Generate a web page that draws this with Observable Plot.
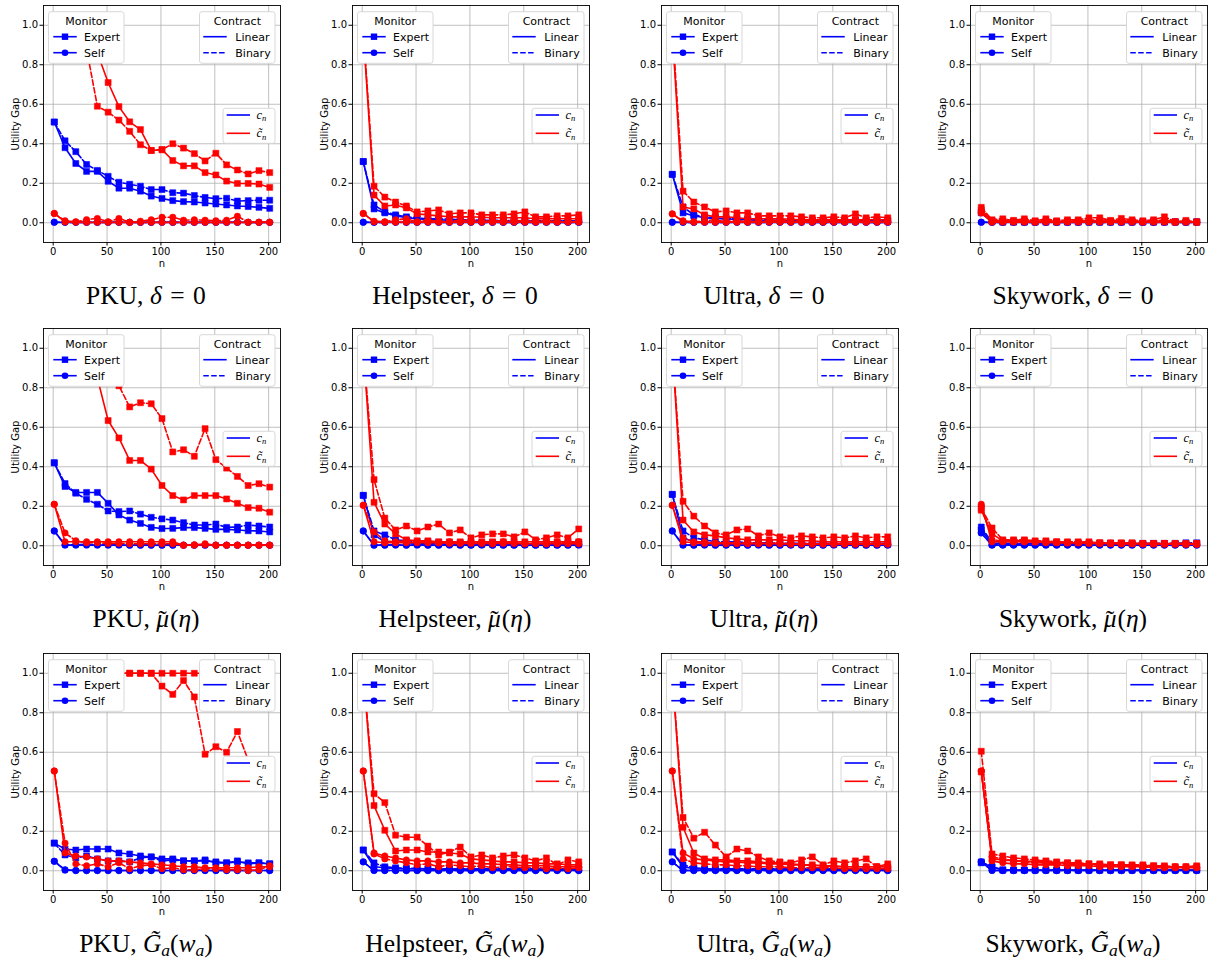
<!DOCTYPE html>
<html><head><meta charset="utf-8">
<script src="https://cdn.jsdelivr.net/npm/d3@7"></script>
<script src="https://cdn.jsdelivr.net/npm/@observablehq/plot@0.6"></script>
<style>
html,body{margin:0;padding:0;background:#fff;}
body{width:1214px;height:961px;overflow:hidden;position:relative;}
.cell{position:absolute;width:300px;height:320px;}
.cell svg.ov{position:absolute;left:0;top:0;overflow:visible;}
</style></head><body>
<script>
// ---------- data ----------
const N = [1,11,21,31,41,51,61,71,81,91,101,111,121,131,141,151,161,171,181,191,201];
const datasetNames = ["PKU","Helpsteer","Ultra","Skywork"];

// Row 1: delta = 0
const PKU_d_c_EL = [0.51,0.38,0.30,0.26,0.26,0.21,0.175,0.175,0.16,0.135,0.123,0.112,0.107,0.105,0.10,0.095,0.09,0.085,0.082,0.078,0.073];
const PKU_d_c_EB = [0.51,0.415,0.36,0.295,0.265,0.235,0.205,0.195,0.185,0.168,0.168,0.152,0.15,0.138,0.128,0.122,0.124,0.11,0.112,0.114,0.114];
const PKU_d_c_SL = [0.002,0.002,0.002,0.002,0.002,0.002,0.002,0.002,0.002,0.002,0.002,0.002,0.002,0.002,0.002,0.002,0.002,0.002,0.002,0.002,0.002];
const PKU_d_c_SB = [0.003,0.002,0.002,0.002,0.002,0.002,0.003,0.002,0.002,0.002,0.003,0.002,0.002,0.002,0.002,0.002,0.002,0.003,0.002,0.002,0.002];
const PKU_d_t_EL = [1.0,1.0,1.0,1.0,0.86,0.71,0.588,0.511,0.472,0.366,0.37,0.315,0.288,0.288,0.254,0.242,0.211,0.199,0.199,0.196,0.179];
const PKU_d_t_EB = [1.0,1.0,1.0,0.88,0.59,0.56,0.52,0.463,0.395,0.366,0.37,0.40,0.378,0.35,0.313,0.352,0.293,0.267,0.247,0.264,0.254];
const PKU_d_t_SL = [0.047,0.004,0.003,0.002,0.002,0.002,0.002,0.002,0.002,0.002,0.002,0.002,0.002,0.002,0.002,0.002,0.002,0.002,0.002,0.002,0.002];
const PKU_d_t_SB = [0.047,0.01,0.005,0.016,0.022,0.005,0.022,0.003,0.008,0.015,0.028,0.028,0.013,0.015,0.013,0.01,0.013,0.033,0.003,0.003,0.003];

const HS_d_c_EL = [0.31,0.07,0.05,0.035,0.025,0.02,0.015,0.015,0.012,0.01,0.01,0.01,0.01,0.01,0.008,0.008,0.008,0.008,0.008,0.008,0.008];
const HS_d_c_EB = [0.31,0.09,0.055,0.04,0.03,0.025,0.02,0.02,0.018,0.015,0.015,0.012,0.012,0.012,0.01,0.01,0.012,0.01,0.01,0.01,0.01];
const HS_d_c_SL = [0.002,0.002,0.002,0.002,0.002,0.002,0.002,0.002,0.002,0.002,0.002,0.002,0.002,0.002,0.002,0.002,0.002,0.002,0.002,0.002,0.002];
const HS_d_c_SB = [0.003,0.002,0.002,0.003,0.002,0.002,0.003,0.002,0.002,0.002,0.003,0.002,0.002,0.002,0.002,0.002,0.002,0.003,0.002,0.002,0.002];
const HS_d_t_EL = [0.96,0.14,0.085,0.09,0.075,0.045,0.04,0.035,0.03,0.03,0.03,0.028,0.025,0.025,0.025,0.025,0.02,0.02,0.02,0.02,0.02];
const HS_d_t_EB = [0.98,0.185,0.13,0.105,0.085,0.055,0.06,0.065,0.045,0.05,0.05,0.04,0.04,0.04,0.045,0.055,0.03,0.03,0.035,0.035,0.04];
const HS_d_t_SL = [0.047,0.005,0.003,0.003,0.003,0.003,0.003,0.003,0.003,0.003,0.003,0.003,0.003,0.003,0.003,0.003,0.003,0.003,0.003,0.003,0.003];
const HS_d_t_SB = [0.047,0.008,0.005,0.015,0.02,0.005,0.015,0.005,0.01,0.01,0.015,0.01,0.008,0.01,0.012,0.01,0.008,0.012,0.005,0.005,0.008];

const UL_d_c_EL = [0.245,0.05,0.035,0.025,0.02,0.02,0.015,0.015,0.012,0.01,0.01,0.01,0.01,0.008,0.008,0.008,0.008,0.008,0.008,0.008,0.008];
const UL_d_c_EB = [0.245,0.08,0.04,0.03,0.025,0.02,0.02,0.018,0.015,0.015,0.012,0.012,0.012,0.01,0.01,0.01,0.01,0.012,0.01,0.01,0.01];
const UL_d_c_SL = [0.002,0.002,0.002,0.002,0.002,0.002,0.002,0.002,0.002,0.002,0.002,0.002,0.002,0.002,0.002,0.002,0.002,0.002,0.002,0.002,0.002];
const UL_d_c_SB = [0.003,0.002,0.002,0.003,0.002,0.002,0.003,0.002,0.002,0.002,0.003,0.002,0.002,0.002,0.002,0.002,0.002,0.003,0.002,0.002,0.002];
const UL_d_t_EL = [0.97,0.08,0.07,0.04,0.03,0.03,0.025,0.02,0.02,0.02,0.02,0.018,0.015,0.015,0.015,0.015,0.015,0.015,0.015,0.015,0.015];
const UL_d_t_EB = [1.0,0.16,0.105,0.08,0.055,0.06,0.05,0.05,0.035,0.035,0.035,0.035,0.03,0.025,0.025,0.03,0.025,0.045,0.025,0.03,0.025];
const UL_d_t_SL = [0.045,0.005,0.003,0.003,0.003,0.003,0.003,0.003,0.003,0.003,0.003,0.003,0.003,0.003,0.003,0.003,0.003,0.003,0.003,0.003,0.003];
const UL_d_t_SB = [0.045,0.01,0.005,0.01,0.015,0.005,0.01,0.005,0.008,0.01,0.012,0.01,0.008,0.01,0.012,0.01,0.008,0.01,0.005,0.005,0.008];

const SW_d_c_EL = [0.05,0.005,0.003,0.003,0.003,0.003,0.003,0.003,0.003,0.003,0.003,0.003,0.003,0.003,0.003,0.003,0.003,0.003,0.003,0.003,0.003];
const SW_d_c_EB = [0.055,0.008,0.005,0.005,0.005,0.005,0.005,0.005,0.005,0.005,0.005,0.005,0.005,0.005,0.005,0.005,0.005,0.005,0.005,0.005,0.005];
const SW_d_c_SL = [0.002,0.002,0.002,0.002,0.002,0.002,0.002,0.002,0.002,0.002,0.002,0.002,0.002,0.002,0.002,0.002,0.002,0.002,0.002,0.002,0.002];
const SW_d_c_SB = [0.003,0.002,0.002,0.003,0.002,0.002,0.003,0.002,0.002,0.002,0.003,0.002,0.002,0.002,0.002,0.002,0.002,0.003,0.002,0.002,0.002];
const SW_d_t_EL = [0.065,0.01,0.01,0.008,0.01,0.005,0.01,0.005,0.008,0.008,0.01,0.01,0.008,0.008,0.008,0.005,0.008,0.008,0.005,0.005,0.003];
const SW_d_t_EB = [0.078,0.015,0.02,0.012,0.02,0.01,0.02,0.01,0.015,0.015,0.025,0.025,0.012,0.022,0.015,0.01,0.015,0.03,0.005,0.012,0.005];
const SW_d_t_SL = [0.05,0.003,0.003,0.003,0.003,0.003,0.003,0.003,0.003,0.003,0.003,0.003,0.003,0.003,0.003,0.003,0.003,0.003,0.003,0.003,0.003];
const SW_d_t_SB = [0.05,0.005,0.01,0.008,0.01,0.005,0.012,0.005,0.008,0.01,0.012,0.015,0.008,0.01,0.01,0.005,0.01,0.015,0.003,0.005,0.003];

// Row 2: mu~(eta)
const PKU_m_c_EL = [0.42,0.30,0.27,0.27,0.27,0.215,0.156,0.13,0.113,0.093,0.087,0.088,0.092,0.092,0.088,0.083,0.083,0.08,0.076,0.075,0.07];
const PKU_m_c_EB = [0.42,0.315,0.266,0.235,0.21,0.176,0.173,0.176,0.16,0.144,0.136,0.13,0.117,0.105,0.105,0.11,0.093,0.095,0.105,0.1,0.095];
const PKU_m_c_SL = [0.075,0.003,0.003,0.003,0.003,0.003,0.003,0.003,0.003,0.003,0.003,0.003,0.003,0.003,0.003,0.003,0.003,0.003,0.003,0.003,0.003];
const PKU_m_c_SB = [0.075,0.005,0.005,0.008,0.005,0.005,0.005,0.003,0.003,0.003,0.003,0.003,0.003,0.003,0.003,0.003,0.003,0.003,0.003,0.003,0.003];
const PKU_m_t_EL = [1.0,1.0,1.0,1.0,0.85,0.634,0.546,0.432,0.432,0.388,0.305,0.254,0.232,0.254,0.254,0.254,0.237,0.215,0.193,0.19,0.17];
const PKU_m_t_EB = [1.0,1.0,1.0,1.0,1.0,1.0,0.81,0.703,0.724,0.719,0.644,0.475,0.486,0.453,0.593,0.436,0.393,0.351,0.305,0.314,0.297];
const PKU_m_t_SL = [0.21,0.02,0.02,0.02,0.02,0.02,0.02,0.02,0.02,0.02,0.02,0.02,0.003,0.003,0.005,0.003,0.003,0.003,0.003,0.003,0.003];
const PKU_m_t_SB = [0.21,0.065,0.025,0.015,0.015,0.012,0.012,0.01,0.01,0.01,0.01,0.01,0.003,0.005,0.01,0.003,0.003,0.003,0.003,0.003,0.003];

const HS_m_c_EL = [0.255,0.055,0.02,0.02,0.015,0.012,0.01,0.01,0.01,0.008,0.008,0.008,0.008,0.008,0.008,0.008,0.008,0.008,0.008,0.008,0.008];
const HS_m_c_EB = [0.255,0.075,0.055,0.03,0.025,0.02,0.02,0.018,0.015,0.015,0.012,0.012,0.015,0.012,0.012,0.01,0.012,0.012,0.01,0.015,0.015];
const HS_m_c_SL = [0.075,0.003,0.003,0.003,0.003,0.003,0.003,0.003,0.003,0.003,0.003,0.003,0.003,0.003,0.003,0.003,0.003,0.003,0.003,0.003,0.003];
const HS_m_c_SB = [0.075,0.003,0.003,0.005,0.003,0.005,0.003,0.003,0.005,0.003,0.003,0.005,0.003,0.003,0.003,0.005,0.003,0.003,0.003,0.003,0.005];
const HS_m_t_EL = [1.0,0.22,0.11,0.06,0.03,0.025,0.025,0.02,0.02,0.02,0.02,0.02,0.02,0.02,0.02,0.02,0.02,0.02,0.02,0.02,0.02];
const HS_m_t_EB = [1.0,0.335,0.14,0.08,0.1,0.075,0.095,0.11,0.065,0.08,0.04,0.055,0.06,0.06,0.045,0.07,0.03,0.04,0.055,0.04,0.085];
const HS_m_t_SL = [0.205,0.02,0.015,0.015,0.015,0.015,0.015,0.015,0.012,0.012,0.012,0.012,0.012,0.012,0.012,0.01,0.01,0.01,0.01,0.01,0.01];
const HS_m_t_SB = [0.205,0.07,0.025,0.02,0.025,0.02,0.02,0.015,0.02,0.015,0.02,0.015,0.01,0.02,0.015,0.01,0.015,0.01,0.02,0.015,0.02];

const UL_m_c_EL = [0.26,0.04,0.02,0.015,0.012,0.01,0.01,0.01,0.01,0.008,0.008,0.008,0.008,0.008,0.008,0.008,0.008,0.008,0.008,0.008,0.008];
const UL_m_c_EB = [0.26,0.075,0.04,0.03,0.02,0.02,0.02,0.015,0.015,0.015,0.012,0.012,0.012,0.012,0.012,0.012,0.012,0.012,0.012,0.012,0.012];
const UL_m_c_SL = [0.075,0.003,0.003,0.003,0.003,0.003,0.003,0.003,0.003,0.003,0.003,0.003,0.003,0.003,0.003,0.003,0.003,0.003,0.003,0.003,0.003];
const UL_m_c_SB = [0.075,0.004,0.003,0.005,0.003,0.004,0.003,0.003,0.005,0.003,0.003,0.004,0.003,0.003,0.003,0.005,0.003,0.003,0.003,0.003,0.004];
const UL_m_t_EL = [1.0,0.13,0.07,0.055,0.05,0.04,0.035,0.03,0.03,0.03,0.03,0.025,0.025,0.025,0.02,0.02,0.02,0.02,0.02,0.02,0.02];
const UL_m_t_EB = [1.0,0.225,0.15,0.1,0.065,0.055,0.08,0.085,0.05,0.065,0.045,0.04,0.05,0.045,0.04,0.045,0.04,0.05,0.04,0.045,0.045];
const UL_m_t_SL = [0.205,0.02,0.015,0.012,0.012,0.01,0.01,0.01,0.01,0.01,0.01,0.008,0.008,0.008,0.008,0.008,0.008,0.008,0.008,0.008,0.008];
const UL_m_t_SB = [0.205,0.04,0.02,0.02,0.015,0.015,0.015,0.015,0.012,0.015,0.012,0.01,0.012,0.01,0.012,0.01,0.012,0.01,0.012,0.01,0.01];

const SW_m_c_EL = [0.08,0.01,0.01,0.01,0.01,0.01,0.01,0.01,0.01,0.01,0.01,0.01,0.01,0.01,0.01,0.01,0.01,0.01,0.01,0.01,0.01];
const SW_m_c_EB = [0.095,0.015,0.012,0.012,0.012,0.012,0.012,0.012,0.012,0.012,0.012,0.012,0.012,0.012,0.012,0.012,0.012,0.012,0.012,0.015,0.015];
const SW_m_c_SL = [0.065,0.003,0.003,0.003,0.003,0.003,0.003,0.003,0.003,0.003,0.003,0.003,0.003,0.003,0.003,0.003,0.003,0.003,0.003,0.003,0.003];
const SW_m_c_SB = [0.065,0.004,0.004,0.004,0.004,0.004,0.004,0.004,0.004,0.004,0.004,0.004,0.004,0.004,0.004,0.004,0.004,0.004,0.004,0.004,0.004];
const SW_m_t_EL = [0.18,0.06,0.025,0.025,0.025,0.02,0.02,0.02,0.015,0.015,0.015,0.015,0.012,0.012,0.012,0.01,0.01,0.01,0.01,0.01,0.01];
const SW_m_t_EB = [0.19,0.09,0.03,0.03,0.03,0.025,0.025,0.02,0.02,0.02,0.02,0.015,0.015,0.015,0.015,0.012,0.012,0.012,0.012,0.012,0.012];
const SW_m_t_SL = [0.21,0.02,0.02,0.02,0.02,0.02,0.015,0.015,0.015,0.015,0.015,0.012,0.012,0.01,0.01,0.01,0.01,0.008,0.008,0.008,0.008];
const SW_m_t_SB = [0.2,0.03,0.025,0.02,0.02,0.02,0.02,0.015,0.015,0.015,0.012,0.012,0.012,0.01,0.01,0.01,0.01,0.01,0.01,0.008,0.008];

// Row 3: G~a(wa)
const PKU_g_c_EL = [0.14,0.11,0.105,0.11,0.11,0.11,0.09,0.085,0.075,0.07,0.06,0.06,0.05,0.05,0.05,0.045,0.04,0.045,0.04,0.04,0.035];
const PKU_g_c_EB = [0.14,0.08,0.065,0.075,0.06,0.05,0.05,0.045,0.065,0.07,0.05,0.055,0.05,0.05,0.055,0.04,0.04,0.05,0.035,0.04,0.035];
const PKU_g_c_SL = [0.048,0.003,0.001,0.001,0.001,0.001,0.001,0.001,0.001,0.001,0.001,0.001,0.001,0.001,0.001,0.001,0.001,0.001,0.001,0.001,0.001];
const PKU_g_c_SB = [0.048,0.005,0.001,0.001,0.001,0.001,0.001,0.001,0.001,0.001,0.001,0.001,0.001,0.001,0.001,0.001,0.001,0.001,0.001,0.001,0.001];
const PKU_g_t_EL = [1.0,1.0,1.0,1.0,1.0,1.0,1.0,1.0,1.0,1.0,1.0,1.0,1.0,1.0,1.0,1.0,1.0,1.0,1.0,1.0,1.0];
const PKU_g_t_EB = [1.0,1.0,1.0,1.0,1.0,1.0,1.0,1.0,1.0,1.0,0.935,0.893,0.963,0.88,0.59,0.628,0.60,0.705,0.56,0.52,0.5];
const PKU_g_t_SL = [0.505,0.09,0.075,0.07,0.06,0.05,0.05,0.045,0.04,0.035,0.03,0.025,0.02,0.02,0.015,0.015,0.015,0.015,0.015,0.02,0.02];
const PKU_g_t_SB = [0.505,0.14,0.035,0.025,0.035,0.02,0.04,0.01,0.025,0.03,0.01,0.015,0.005,0.005,0.01,0.01,0.005,0.005,0.001,0.005,0.025];

const HS_g_c_EL = [0.105,0.02,0.015,0.01,0.01,0.01,0.008,0.008,0.008,0.008,0.008,0.008,0.008,0.008,0.008,0.008,0.008,0.008,0.008,0.008,0.008];
const HS_g_c_EB = [0.105,0.04,0.02,0.015,0.012,0.012,0.01,0.01,0.01,0.01,0.01,0.01,0.01,0.01,0.01,0.01,0.01,0.01,0.01,0.01,0.01];
const HS_g_c_SL = [0.045,0.001,0.001,0.001,0.001,0.001,0.001,0.001,0.001,0.001,0.001,0.001,0.001,0.001,0.001,0.001,0.001,0.001,0.001,0.001,0.001];
const HS_g_c_SB = [0.045,0.002,0.001,0.001,0.001,0.001,0.001,0.001,0.001,0.001,0.001,0.001,0.001,0.001,0.001,0.001,0.001,0.001,0.001,0.001,0.001];
const HS_g_t_EL = [1.0,0.33,0.205,0.1,0.105,0.105,0.095,0.095,0.09,0.085,0.06,0.055,0.05,0.045,0.045,0.04,0.04,0.035,0.035,0.03,0.03];
const HS_g_t_EB = [1.0,0.39,0.345,0.18,0.17,0.17,0.125,0.08,0.095,0.12,0.07,0.08,0.065,0.075,0.08,0.065,0.05,0.065,0.03,0.055,0.045];
const HS_g_t_SL = [0.505,0.09,0.075,0.065,0.055,0.05,0.05,0.045,0.045,0.04,0.04,0.035,0.035,0.03,0.03,0.025,0.025,0.025,0.02,0.02,0.02];
const HS_g_t_SB = [0.505,0.085,0.06,0.05,0.04,0.03,0.035,0.02,0.03,0.025,0.02,0.025,0.015,0.02,0.02,0.015,0.02,0.01,0.015,0.01,0.015];

const UL_g_c_EL = [0.095,0.02,0.01,0.008,0.008,0.008,0.008,0.008,0.008,0.008,0.008,0.008,0.008,0.008,0.008,0.008,0.008,0.008,0.008,0.008,0.008];
const UL_g_c_EB = [0.095,0.03,0.015,0.01,0.01,0.01,0.01,0.01,0.01,0.01,0.01,0.01,0.01,0.01,0.01,0.01,0.01,0.01,0.01,0.01,0.01];
const UL_g_c_SL = [0.045,0.001,0.001,0.001,0.001,0.001,0.001,0.001,0.001,0.001,0.001,0.001,0.001,0.001,0.001,0.001,0.001,0.001,0.001,0.001,0.001];
const UL_g_c_SB = [0.045,0.002,0.001,0.001,0.001,0.001,0.001,0.001,0.001,0.001,0.001,0.001,0.001,0.001,0.001,0.001,0.001,0.001,0.001,0.001,0.001];
const UL_g_t_EL = [1.0,0.22,0.09,0.06,0.055,0.055,0.05,0.05,0.045,0.04,0.04,0.035,0.03,0.03,0.025,0.025,0.02,0.02,0.02,0.02,0.02];
const UL_g_t_EB = [1.0,0.27,0.165,0.195,0.13,0.07,0.11,0.1,0.07,0.05,0.045,0.04,0.055,0.07,0.03,0.05,0.04,0.05,0.06,0.02,0.035];
const UL_g_t_SL = [0.505,0.09,0.06,0.055,0.05,0.045,0.045,0.04,0.04,0.035,0.035,0.03,0.03,0.025,0.025,0.02,0.02,0.02,0.02,0.02,0.02];
const UL_g_t_SB = [0.505,0.06,0.04,0.035,0.03,0.03,0.025,0.025,0.02,0.02,0.02,0.015,0.015,0.015,0.015,0.015,0.01,0.01,0.01,0.01,0.01];

const SW_g_c_EL = [0.04,0.02,0.003,0.003,0.003,0.003,0.003,0.003,0.003,0.003,0.003,0.003,0.003,0.003,0.003,0.003,0.003,0.003,0.003,0.003,0.003];
const SW_g_c_EB = [0.045,0.02,0.005,0.004,0.004,0.004,0.004,0.004,0.004,0.004,0.004,0.004,0.004,0.004,0.004,0.004,0.004,0.004,0.004,0.004,0.004];
const SW_g_c_SL = [0.045,0.001,0.001,0.001,0.001,0.001,0.001,0.001,0.001,0.001,0.001,0.001,0.001,0.001,0.001,0.001,0.001,0.001,0.001,0.001,0.001];
const SW_g_c_SB = [0.045,0.002,0.001,0.001,0.001,0.001,0.001,0.001,0.001,0.001,0.001,0.001,0.001,0.001,0.001,0.001,0.001,0.001,0.001,0.001,0.001];
const SW_g_t_EL = [0.5,0.06,0.055,0.05,0.05,0.045,0.045,0.04,0.04,0.035,0.035,0.03,0.03,0.03,0.025,0.025,0.025,0.02,0.02,0.02,0.02];
const SW_g_t_EB = [0.605,0.085,0.075,0.065,0.06,0.055,0.05,0.045,0.04,0.04,0.035,0.035,0.03,0.03,0.03,0.03,0.025,0.025,0.02,0.02,0.025];
const SW_g_t_SL = [0.505,0.05,0.04,0.035,0.035,0.03,0.03,0.03,0.025,0.025,0.025,0.02,0.02,0.02,0.02,0.02,0.015,0.015,0.015,0.015,0.015];
const SW_g_t_SB = [0.505,0.07,0.06,0.05,0.045,0.04,0.04,0.035,0.035,0.03,0.03,0.03,0.025,0.025,0.025,0.02,0.02,0.02,0.02,0.02,0.02];

const panelRows = [
  [ [PKU_d_c_EL,PKU_d_c_EB,PKU_d_c_SL,PKU_d_c_SB,PKU_d_t_EL,PKU_d_t_EB,PKU_d_t_SL,PKU_d_t_SB],
    [HS_d_c_EL,HS_d_c_EB,HS_d_c_SL,HS_d_c_SB,HS_d_t_EL,HS_d_t_EB,HS_d_t_SL,HS_d_t_SB],
    [UL_d_c_EL,UL_d_c_EB,UL_d_c_SL,UL_d_c_SB,UL_d_t_EL,UL_d_t_EB,UL_d_t_SL,UL_d_t_SB],
    [SW_d_c_EL,SW_d_c_EB,SW_d_c_SL,SW_d_c_SB,SW_d_t_EL,SW_d_t_EB,SW_d_t_SL,SW_d_t_SB] ],
  [ [PKU_m_c_EL,PKU_m_c_EB,PKU_m_c_SL,PKU_m_c_SB,PKU_m_t_EL,PKU_m_t_EB,PKU_m_t_SL,PKU_m_t_SB],
    [HS_m_c_EL,HS_m_c_EB,HS_m_c_SL,HS_m_c_SB,HS_m_t_EL,HS_m_t_EB,HS_m_t_SL,HS_m_t_SB],
    [UL_m_c_EL,UL_m_c_EB,UL_m_c_SL,UL_m_c_SB,UL_m_t_EL,UL_m_t_EB,UL_m_t_SL,UL_m_t_SB],
    [SW_m_c_EL,SW_m_c_EB,SW_m_c_SL,SW_m_c_SB,SW_m_t_EL,SW_m_t_EB,SW_m_t_SL,SW_m_t_SB] ],
  [ [PKU_g_c_EL,PKU_g_c_EB,PKU_g_c_SL,PKU_g_c_SB,PKU_g_t_EL,PKU_g_t_EB,PKU_g_t_SL,PKU_g_t_SB],
    [HS_g_c_EL,HS_g_c_EB,HS_g_c_SL,HS_g_c_SB,HS_g_t_EL,HS_g_t_EB,HS_g_t_SL,HS_g_t_SB],
    [UL_g_c_EL,UL_g_c_EB,UL_g_c_SL,UL_g_c_SB,UL_g_t_EL,UL_g_t_EB,UL_g_t_SL,UL_g_t_SB],
    [SW_g_c_EL,SW_g_c_EB,SW_g_c_SL,SW_g_c_SB,SW_g_t_EL,SW_g_t_EB,SW_g_t_SL,SW_g_t_SB] ]
];
// series keys: cost (c blue / c~ red), monitor (Expert square / Self circle), contract (Linear solid / Binary dashed)
const seriesMeta = [
  {color:"#0000ff", symbol:"square", dash:false},
  {color:"#0000ff", symbol:"square", dash:true},
  {color:"#0000ff", symbol:"circle", dash:false},
  {color:"#0000ff", symbol:"circle", dash:true},
  {color:"#ff0000", symbol:"square", dash:false},
  {color:"#ff0000", symbol:"square", dash:true},
  {color:"#ff0000", symbol:"circle", dash:false},
  {color:"#ff0000", symbol:"circle", dash:true}
];

// ---------- layout ----------
const colLeft = [0, 309, 618, 927];
const rowTop = [0, 323, 648];
const FONT = "DejaVu Sans";

function makePlot(arrs) {
  const marks = [
    Plot.gridX([0,50,100,150,200], {stroke:"#b0b0b0", strokeOpacity:1, strokeWidth:0.8}),
    Plot.gridY([0,0.2,0.4,0.6,0.8,1.0], {stroke:"#b0b0b0", strokeOpacity:1, strokeWidth:0.8})
  ];
  arrs.forEach((arr, i) => {
    const m = seriesMeta[i];
    const data = N.map((n, k) => ({n, v: arr[k]}));
    marks.push(Plot.line(data, {x:"n", y:"v", stroke:m.color, strokeWidth:1.6,
      strokeDasharray: m.dash ? "5.5,2.4" : undefined, clip:true}));
    marks.push(Plot.dot(data, {x:"n", y:"v", fill:m.color, stroke:m.color, strokeWidth:0.5,
      symbol:m.symbol, r: m.symbol === "square" ? 3.4 : 3.2, clip:true}));
  });
  marks.push(Plot.frame({stroke:"#000", strokeWidth:0.9}));
  return Plot.plot({
    width:285, height:270, marginLeft:43, marginRight:5, marginTop:5, marginBottom:28,
    style:{fontFamily:FONT, fontSize:"10px", color:"#000", background:"transparent", overflow:"visible"},
    x:{domain:[-9,211], ticks:[0,50,100,150,200], tickSize:3.5, tickPadding:2, label:"n", labelAnchor:"center", labelArrow:"none", labelOffset:24},
    y:{domain:[-0.1,1.1], ticks:[0,0.2,0.4,0.6,0.8,1.0], tickFormat:d=>d.toFixed(1), tickSize:3.5, tickPadding:2, label:"Utility Gap", labelAnchor:"center", labelArrow:"none", labelOffset:32},
    marks
  });
}

function legendBox(g, x, y, w, h) {
  g.append("rect").attr("x", x).attr("y", y).attr("width", w).attr("height", h)
    .attr("rx", 2.5).attr("fill", "#fff").attr("stroke", "#d4d4d4").attr("stroke-width", 0.9);
}
function handle(g, x1, x2, y, color, dash, symbol) {
  g.append("line").attr("x1", x1).attr("x2", x2).attr("y1", y).attr("y2", y)
    .attr("stroke", color).attr("stroke-width", 1.6).attr("stroke-dasharray", dash ? "5.5,2.4" : null);
  const cx = (x1 + x2) / 2;
  if (symbol === "square") g.append("rect").attr("x", cx - 3.2).attr("y", y - 3.2).attr("width", 6.4).attr("height", 6.4).attr("fill", color);
  if (symbol === "circle") g.append("circle").attr("cx", cx).attr("cy", y).attr("r", 3.3).attr("fill", color);
}
function txt(g, x, y, s, anchor) {
  return g.append("text").attr("x", x).attr("y", y).attr("font-family", FONT).attr("font-size", 11)
    .attr("text-anchor", anchor || "start").attr("fill", "#000").text(s);
}

function addOverlay(cell, row, col) {
  const svg = d3.select(cell).append("svg").attr("class", "ov").attr("width", 300).attr("height", 320);
  const g = svg.append("g");
  // Monitor legend
  legendBox(g, 48.5, 11.7, 75.5, 51.6);
  txt(g, 86.2, 24.6, "Monitor", "middle");
  handle(g, 53.3, 76.7, 36.7, "#0000ff", false, "square");
  txt(g, 84, 40.6, "Expert");
  handle(g, 53.3, 76.7, 52.7, "#0000ff", false, "circle");
  txt(g, 84, 56.6, "Self");
  // Contract legend
  legendBox(g, 199.5, 11.7, 75.5, 51.6);
  txt(g, 237.3, 24.6, "Contract", "middle");
  handle(g, 203.3, 226.7, 36.7, "#0000ff", false, null);
  txt(g, 235.3, 40.6, "Linear");
  handle(g, 203.3, 226.7, 52.7, "#0000ff", true, null);
  txt(g, 235.3, 56.6, "Binary");
  // cost legend
  legendBox(g, 223, 108.3, 52, 35);
  handle(g, 226.7, 250, 115, "#0000ff", false, null);
  handle(g, 226.7, 250, 133.3, "#ff0000", false, null);
  const m1 = g.append("text").attr("x", 256.5).attr("y", 118.5).attr("font-family", "Liberation Serif").attr("font-size", 12.5).attr("font-style", "italic");
  m1.append("tspan").text("c");
  m1.append("tspan").attr("font-size", 8.5).attr("dy", 2.5).text("n");
  const m2 = g.append("text").attr("x", 256.5).attr("y", 137).attr("font-family", "Liberation Serif").attr("font-size", 12.5).attr("font-style", "italic");
  m2.append("tspan").text("c\u0303");
  m2.append("tspan").attr("font-size", 8.5).attr("dy", 2.5).text("n");

  // caption
  const cap = svg.append("text").attr("x", 146).attr("y", 304).attr("text-anchor", "middle")
    .attr("font-family", "Liberation Serif").attr("font-size", 25.5).attr("fill", "#000");
  cap.append("tspan").text(datasetNames[col] + ", ");
  if (row === 0) {
    cap.append("tspan").attr("font-style", "italic").text("\u03B4");
    cap.append("tspan").text("\u2004=\u20040");
  } else if (row === 1) {
    cap.append("tspan").attr("font-style", "italic").text("\u03BC");
    cap.append("tspan").attr("dx", "-0.42em").attr("dy", "0.02em").text("\u02DC");
    cap.append("tspan").attr("dx", "0.12em").attr("dy", "-0.02em").text("(");
    cap.append("tspan").attr("font-style", "italic").text("\u03B7");
    cap.append("tspan").text(")");
  } else {
    cap.append("tspan").attr("font-style", "italic").text("G\u0303");
    cap.append("tspan").attr("font-style", "italic").attr("font-size", 17.5).attr("dy", 4).text("a");
    cap.append("tspan").attr("dy", -4).text("(");
    cap.append("tspan").attr("font-style", "italic").text("w");
    cap.append("tspan").attr("font-style", "italic").attr("font-size", 17.5).attr("dy", 4).text("a");
    cap.append("tspan").attr("dy", -4).text(")");
  }
}

panelRows.forEach((rowPanels, r) => {
  rowPanels.forEach((arrs, c) => {
    const cell = document.createElement("div");
    cell.className = "cell";
    cell.style.left = colLeft[c] + "px";
    cell.style.top = rowTop[r] + "px";
    document.body.appendChild(cell);
    const p = makePlot(arrs);
    p.style.position = "absolute"; p.style.left = "0px"; p.style.top = "0px";
    cell.appendChild(p);
    addOverlay(cell, r, c);
  });
});
</script>
</body></html>
